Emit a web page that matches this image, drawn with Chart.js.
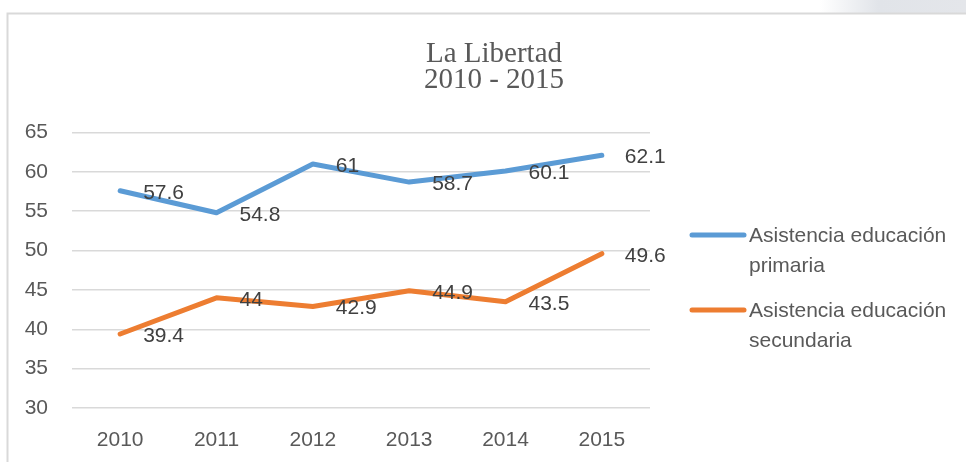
<!DOCTYPE html>
<html>
<head>
<meta charset="utf-8">
<script src="https://cdn.jsdelivr.net/npm/chart.js@4.4.1/dist/chart.umd.min.js"></script>
<style>
  html, body { margin: 0; padding: 0; background: #fff; }
  #wrap { position: relative; width: 966px; height: 462px; }
</style>
</head>
<body>
<div id="wrap"><canvas id="c"></canvas></div>
<script>
// data
var years = ['2010', '2011', '2012', '2013', '2014', '2015'];
var primaria = [57.6, 54.8, 61, 58.7, 60.1, 62.1];
var secundaria = [39.4, 44, 42.9, 44.9, 43.5, 49.6];
var seriesNames = ['Asistencia educación primaria', 'Asistencia educación secundaria'];
var titleLines = ['La Libertad', '2010 - 2015'];
var yTicks = { min: 30, max: 65, step: 5 };

var sansFont = '"Liberation Sans", Arial, sans-serif';
var serifFont = '"Liberation Serif", "Times New Roman", serif';

// frame, faint background strip, title
var framePlugin = {
    id: 'frame',
    beforeDraw: function(chart) {
        var ctx = chart.ctx;
        ctx.save();
        ctx.fillStyle = '#fff';
        ctx.fillRect(0, 0, chart.width, chart.height);
        var g = ctx.createLinearGradient(820, 0, 966, 0);
        g.addColorStop(0, 'rgba(225,228,233,0)');
        g.addColorStop(0.4, 'rgba(225,228,233,1)');
        g.addColorStop(1, 'rgba(228,230,234,1)');
        ctx.fillStyle = g;
        ctx.fillRect(820, 0, 146, 13);
        ctx.strokeStyle = '#d9d9d9';
        ctx.lineWidth = 2;
        ctx.beginPath();
        ctx.moveTo(7.5, chart.height);
        ctx.lineTo(7.5, 13.5);
        ctx.lineTo(chart.width, 13.5);
        ctx.stroke();

        ctx.fillStyle = '#595959';
        ctx.font = '29px ' + serifFont;
        ctx.textAlign = 'center';
        ctx.textBaseline = 'alphabetic';
        ctx.fillText(titleLines[0], 494, 61.5);
        ctx.fillText(titleLines[1], 494, 88);
        ctx.restore();
    }
};

// value labels to the right of each point
var labelPlugin = {
    id: 'valueLabels',
    afterDatasetsDraw: function(chart) {
        var ctx = chart.ctx;
        ctx.save();
        ctx.font = '21px ' + sansFont;
        ctx.fillStyle = '#404040';
        ctx.textAlign = 'left';
        ctx.textBaseline = 'middle';
        chart.data.datasets.forEach(function(ds, i) {
            var meta = chart.getDatasetMeta(i);
            meta.data.forEach(function(pt, j) {
                ctx.fillText(String(ds.data[j]), pt.x + 23, pt.y + 2);
            });
        });
        ctx.restore();
    }
};

// legend on the right, wrapped to two lines
var legendPlugin = {
    id: 'sideLegend',
    afterDraw: function(chart) {
        var ctx = chart.ctx;
        ctx.save();
        ctx.font = '21px ' + sansFont;
        ctx.textAlign = 'left';
        ctx.textBaseline = 'alphabetic';
        var top = [235, 310];
        chart.data.datasets.forEach(function(ds, i) {
            var y = top[i];
            ctx.strokeStyle = ds.borderColor;
            ctx.lineWidth = 5;
            ctx.lineCap = 'round';
            ctx.beginPath();
            ctx.moveTo(692, y);
            ctx.lineTo(744, y);
            ctx.stroke();
            var words = ds.label.split(' ');
            var lines = [], cur = '';
            words.forEach(function(w) {
                var t = cur ? cur + ' ' + w : w;
                if (ctx.measureText(t).width > 210 && cur) { lines.push(cur); cur = w; }
                else cur = t;
            });
            lines.push(cur);
            ctx.fillStyle = '#595959';
            lines.forEach(function(l, k) {
                ctx.fillText(l, 749, y + 7 + k * 30);
            });
        });
        ctx.restore();
    }
};

new Chart(document.getElementById('c'), {
    type: 'line',
    data: {
        labels: years,
        datasets: [
            { label: seriesNames[0], data: primaria, borderColor: '#5b9bd5', backgroundColor: '#5b9bd5' },
            { label: seriesNames[1], data: secundaria, borderColor: '#ed7d31', backgroundColor: '#ed7d31' }
        ]
    },
    options: {
        responsive: true,
        maintainAspectRatio: false,
        animation: false,
        events: [],
        layout: { padding: { left: 0, top: 132.5, right: 316, bottom: 0 } },
        elements: {
            line: { tension: 0, borderWidth: 5, borderCapStyle: 'round', borderJoinStyle: 'round' },
            point: { radius: 0 }
        },
        plugins: { legend: { display: false }, title: { display: false }, tooltip: { enabled: false } },
        scales: {
            x: {
                offset: true,
                grid: { display: false, drawTicks: false },
                border: { display: false },
                ticks: { color: '#595959', font: { family: sansFont, size: 21 }, padding: 20 },
                afterFit: function(s) { s.height = 54; }
            },
            y: {
                min: yTicks.min,
                max: yTicks.max,
                grid: { color: '#d9d9d9', lineWidth: 1.5, drawTicks: false },
                border: { display: false },
                ticks: { stepSize: yTicks.step, color: '#595959', font: { family: sansFont, size: 21 }, padding: 24 },
                afterFit: function(s) { s.width = 72; }
            }
        }
    },
    plugins: [framePlugin, labelPlugin, legendPlugin]
});
</script>
</body>
</html>
